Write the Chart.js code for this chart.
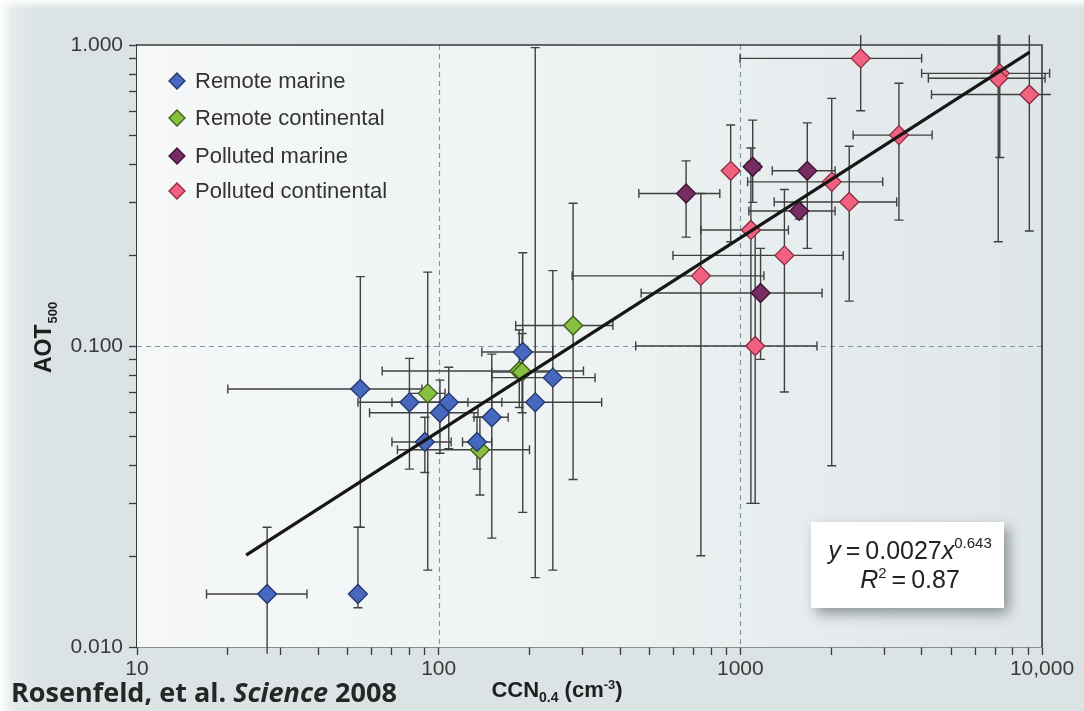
<!DOCTYPE html>
<html>
<head>
<meta charset="utf-8">
<script src="https://cdn.jsdelivr.net/npm/chart.js@4.4.0/dist/chart.umd.min.js"></script>
<style>
  html, body { margin: 0; padding: 0; }
  body {
    width: 1084px; height: 711px; overflow: hidden;
    background:
      linear-gradient(to bottom, rgba(255,255,255,0.9) 0px, rgba(255,255,255,0) 9px),
      linear-gradient(to right, #ffffff 0px, #e6ecee 12px, #dbe3e5 40px, #dbe3e5 100%);
  }
  canvas { display: block; }
</style>
</head>
<body>
<canvas id="aotChart" width="1084" height="711"></canvas>
<script>
// Valores (CCN en cm-3, AOT a 500 nm)
// Remote marine
const rmCCN = [27, 54, 55, 80, 90, 101, 108, 134, 150, 190, 209, 239];
const rmAOT = [0.015, 0.015, 0.072, 0.065, 0.048, 0.060, 0.065, 0.048, 0.058, 0.0955, 0.065, 0.0785];
const rmCCNRange = [[17, 36.6], null, [20, 88], [70, 125], [70, 110], [59, 135], [54, 162], [120, 150], [131, 170], [139, 239], [150, 347], [150, 330]];
const rmAOTRange = [[0.0095, 0.025], [0.0135, 0.025], [0.025, 0.17], [0.039, 0.091], [0.038, 0.058], [0.044, 0.077], [0.0456, 0.085], [0.039, 0.058], [0.023, 0.094], [0.028, 0.204], [0.017, 0.98], [0.018, 0.178]];

// Remote continental
const rcCCN = [92, 137, 185, 189, 279];
const rcAOT = [0.0696, 0.0452, 0.0826, 0.0819, 0.117];
const rcCCNRange = [[80, 105], [73, 200], [65, 302], [150, 240], [180, 378]];
const rcAOTRange = [[0.018, 0.176], [0.032, 0.058], [0.0625, 0.113], [0.06, 0.11], [0.036, 0.298]];

// Polluted marine
const pmCCN = [661, 1099, 1667, 1567, 1167];
const pmAOT = [0.321, 0.394, 0.382, 0.281, 0.150];
const pmCCNRange = [[461, 855], [1050, 1160], [1276, 2061], [1067, 2061], [469, 1866]];
const pmAOTRange = [[0.230, 0.412], [0.30, 0.563], [0.211, 0.551], [0.264, 0.30], [0.0903, 0.211]];

// Polluted continental
const pcCCN = [2506, 7244, 7160, 9078, 3356, 929, 2009, 2296, 1084, 1400, 740, 1120];
const pcAOT = [0.903, 0.805, 0.775, 0.685, 0.502, 0.382, 0.351, 0.301, 0.243, 0.200, 0.171, 0.100];
const pcCCNRange = [[998, 3990], [3990, 10600], [4200, 10240], [4303, 10700], [2366, 4323], null, [1057, 2965], [1295, 3298], [740, 1443], [598, 2193], [277, 1197], [450, 1795]];
const pcAOTRange = [[0.605, 1.08], [0.423, 1.08], [0.222, 1.08], [0.241, 1.08], [0.262, 0.746], [0.222, 0.542], [0.040, 0.665], [0.141, 0.461], [0.030, 0.455], [0.0703, 0.331], [0.0201, 0.321], [0.030, 0.24]];

// Recta de ajuste (extremos)
const fitCCN = [23, 9100];
const fitAOT = [0.0202, 0.947];

// Ejes
const xTickValues = [10, 20, 30, 40, 50, 60, 70, 80, 90, 100, 200, 300, 400, 500, 600, 700, 800, 900, 1000, 2000, 3000, 4000, 5000, 6000, 7000, 8000, 9000, 10000];
const yTickValues = [0.01, 0.02, 0.03, 0.04, 0.05, 0.06, 0.07, 0.08, 0.09, 0.1, 0.2, 0.3, 0.4, 0.5, 0.6, 0.7, 0.8, 0.9, 1];
const xTickLabels = { '10': '10', '100': '100', '1000': '1000', '10000': '10,000' };
const yTickLabels = { '0.01': '0.010', '0.1': '0.100', '1': '1.000' };
const refLinesX = [100, 1000];
const refLinesY = [0.1];

const groups = [
  { label: 'Remote marine', x: rmCCN, y: rmAOT, xr: rmCCNRange, yr: rmAOTRange, fill: '#4768bf', edge: '#24366b' },
  { label: 'Remote continental', x: rcCCN, y: rcAOT, xr: rcCCNRange, yr: rcAOTRange, fill: '#86c03e', edge: '#3d5a1b' },
  { label: 'Polluted marine', x: pmCCN, y: pmAOT, xr: pmCCNRange, yr: pmAOTRange, fill: '#752d62', edge: '#3a122f' },
  { label: 'Polluted continental', x: pcCCN, y: pcAOT, xr: pcCCNRange, yr: pcAOTRange, fill: '#f0627f', edge: '#8c2b40' }
];

const SANS = '"Liberation Sans", Arial, sans-serif';

function diamond(ctx, x, y, r, fill, edge) {
  ctx.beginPath();
  ctx.moveTo(x, y - r);
  ctx.lineTo(x + r, y);
  ctx.lineTo(x, y + r);
  ctx.lineTo(x - r, y);
  ctx.closePath();
  ctx.fillStyle = fill;
  ctx.fill();
  ctx.lineWidth = 1.3;
  ctx.strokeStyle = edge;
  ctx.stroke();
}

// Fondo del area, lineas de referencia, marco y barras de error
const fondoPlugin = {
  id: 'fondo',
  beforeDatasetsDraw(chart) {
    const { ctx, chartArea: a, scales: { x, y } } = chart;
    ctx.save();
    const g = ctx.createLinearGradient(a.left, 0, a.right, 0);
    g.addColorStop(0, '#f6f8f8');
    g.addColorStop(0.5, '#eef2f3');
    g.addColorStop(1, '#dfe6e8');
    ctx.fillStyle = g;
    ctx.fillRect(a.left, a.top, a.right - a.left, a.bottom - a.top);

    ctx.setLineDash([5, 4]);
    ctx.strokeStyle = '#7c98a8';
    ctx.lineWidth = 1.2;
    refLinesX.forEach(v => {
      const px = Math.round(x.getPixelForValue(v)) + 0.5;
      ctx.beginPath(); ctx.moveTo(px, a.top); ctx.lineTo(px, a.bottom); ctx.stroke();
    });
    refLinesY.forEach(v => {
      const py = Math.round(y.getPixelForValue(v)) + 0.5;
      ctx.beginPath(); ctx.moveTo(a.left, py); ctx.lineTo(a.right, py); ctx.stroke();
    });
    ctx.setLineDash([]);

    // marco superior y derecho
    ctx.strokeStyle = '#3a3a3a';
    ctx.lineWidth = 1.6;
    ctx.beginPath();
    ctx.moveTo(a.left, a.top); ctx.lineTo(a.right, a.top); ctx.lineTo(a.right, a.bottom);
    ctx.stroke();

    // barras de error
    const cap = 4.5;
    ctx.strokeStyle = '#404040';
    ctx.lineWidth = 1.4;
    groups.forEach(gr => {
      gr.x.forEach((cx, i) => {
        const px = x.getPixelForValue(cx);
        const py = y.getPixelForValue(gr.y[i]);
        const xr = gr.xr[i], yr = gr.yr[i];
        ctx.beginPath();
        if (xr) {
          const p0 = x.getPixelForValue(xr[0]), p1 = x.getPixelForValue(xr[1]);
          ctx.moveTo(p0, py); ctx.lineTo(p1, py);
          ctx.moveTo(p0, py - cap); ctx.lineTo(p0, py + cap);
          if (xr[1] < 10650) { ctx.moveTo(p1, py - cap); ctx.lineTo(p1, py + cap); }
        }
        if (yr) {
          const q0 = y.getPixelForValue(yr[0]), q1 = y.getPixelForValue(yr[1]);
          ctx.moveTo(px, q0); ctx.lineTo(px, q1);
          if (yr[0] > 0.0101) { ctx.moveTo(px - cap, q0); ctx.lineTo(px + cap, q0); }
          if (yr[1] < 1.05) { ctx.moveTo(px - cap, q1); ctx.lineTo(px + cap, q1); }
        }
        ctx.stroke();
      });
    });
    ctx.restore();
  },
  afterDraw(chart) {
    const { ctx } = chart;
    ctx.save();

    // leyenda
    ctx.font = '22px ' + SANS;
    ctx.textBaseline = 'middle';
    ctx.textAlign = 'left';
    const rows = [81, 118, 156, 191];
    groups.forEach((gr, i) => {
      diamond(ctx, 177, rows[i], 8, gr.fill, gr.edge);
      ctx.fillStyle = '#333333';
      ctx.fillText(gr.label, 195, rows[i] + 1);
    });

    // titulo eje Y: AOT500
    ctx.save();
    ctx.translate(51, 373);
    ctx.rotate(-Math.PI / 2);
    ctx.textBaseline = 'alphabetic';
    ctx.fillStyle = '#1e1e1e';
    ctx.font = 'bold 23px ' + SANS;
    ctx.fillText('AOT', 0, 0);
    const wA = ctx.measureText('AOT').width;
    ctx.font = 'bold 13px ' + SANS;
    ctx.fillText('500', wA + 1, 6);
    ctx.restore();

    // titulo eje X: CCN0.4 (cm-3)
    ctx.textBaseline = 'alphabetic';
    ctx.fillStyle = '#1e1e1e';
    const parts = [
      { t: 'CCN', f: 'bold 22px ', dy: 0 },
      { t: '0.4', f: 'bold 14px ', dy: 5 },
      { t: ' (cm', f: 'bold 22px ', dy: 0 },
      { t: '-3', f: 'bold 13px ', dy: -8 },
      { t: ')', f: 'bold 22px ', dy: 0 }
    ];
    let total = 0;
    parts.forEach(p => { ctx.font = p.f + SANS; p.w = ctx.measureText(p.t).width; total += p.w; });
    let cx = 557 - total / 2;
    parts.forEach(p => { ctx.font = p.f + SANS; ctx.fillText(p.t, cx, 697 + p.dy); cx += p.w; });

    // cita
    const citeParts = [
      { t: 'Rosenfeld, et al. ', f: 'bold ' },
      { t: 'Science', f: 'italic bold ' },
      { t: ' 2008', f: 'bold ' }
    ];
    let cw = 0;
    citeParts.forEach(p => { ctx.font = p.f + '24px "Open Sans", sans-serif'; cw += ctx.measureText(p.t).width; });
    const size = 24 * 386 / cw;
    let tx = 11;
    ctx.fillStyle = '#262626';
    citeParts.forEach(p => {
      ctx.font = p.f + size.toFixed(2) + 'px "Open Sans", sans-serif';
      ctx.fillText(p.t, tx, 702);
      tx += ctx.measureText(p.t).width;
    });

    // recuadro con la ecuacion
    ctx.save();
    ctx.shadowColor = 'rgba(40,50,60,0.45)';
    ctx.shadowBlur = 12;
    ctx.shadowOffsetX = 5;
    ctx.shadowOffsetY = 6;
    ctx.fillStyle = '#ffffff';
    ctx.fillRect(811, 522, 193, 86);
    ctx.restore();

    ctx.fillStyle = '#222222';
    const eq1 = [
      { t: 'y', f: 'italic 25px ', dy: 0 },
      { t: '\u2009=\u20090.0027', f: '25px ', dy: 0 },
      { t: 'x', f: 'italic 25px ', dy: 0 },
      { t: '0.643', f: '15px ', dy: -11 }
    ];
    const eq2 = [
      { t: 'R', f: 'italic 25px ', dy: 0 },
      { t: '2', f: '15px ', dy: -10 },
      { t: '\u2009=\u20090.87', f: '25px ', dy: 0 }
    ];
    [[eq1, 559, 910], [eq2, 588, 910]].forEach(([line, base, center]) => {
      let w = 0;
      line.forEach(p => { ctx.font = p.f + SANS; p.w = ctx.measureText(p.t).width; w += p.w; });
      let lx = center - w / 2;
      line.forEach(p => { ctx.font = p.f + SANS; ctx.fillText(p.t, lx, base + p.dy); lx += p.w; });
    });

    ctx.restore();
  }
};

const datasets = groups.map(gr => ({
  label: gr.label,
  type: 'scatter',
  data: gr.x.map((v, i) => ({ x: v, y: gr.y[i] })),
  pointStyle: 'rectRot',
  pointRadius: 9.5,
  pointHoverRadius: 9.5,
  backgroundColor: gr.fill,
  borderColor: gr.edge,
  borderWidth: 1.3,
  clip: false,
  order: 1
}));

datasets.push({
  label: 'Ajuste',
  type: 'line',
  data: fitCCN.map((v, i) => ({ x: v, y: fitAOT[i] })),
  borderColor: '#161616',
  borderWidth: 3.2,
  pointRadius: 0,
  fill: false,
  order: 0
});

const tickFont = { family: SANS, size: 21 };

new Chart(document.getElementById('aotChart').getContext('2d'), {
  type: 'scatter',
  data: { datasets },
  options: {
    responsive: false,
    animation: false,
    devicePixelRatio: 1,
    layout: { padding: { left: 0, top: 45, right: 42, bottom: 0 } },
    plugins: { legend: { display: false }, tooltip: { enabled: false } },
    scales: {
      x: {
        type: 'logarithmic',
        position: 'bottom',
        min: 10,
        max: 10000,
        afterBuildTicks: s => { s.ticks = xTickValues.map(v => ({ value: v })); },
        afterFit: s => { s.height = 64; },
        ticks: {
          autoSkip: false, maxRotation: 0, minRotation: 0,
          color: '#3a3a3a', font: tickFont, padding: 2,
          callback: v => xTickLabels[String(v)] || ''
        },
        grid: { drawOnChartArea: false, tickLength: 8, tickColor: '#3a3a3a', tickWidth: 1.3 },
        border: { color: '#3a3a3a', width: 1.6 }
      },
      y: {
        type: 'logarithmic',
        position: 'left',
        min: 0.01,
        max: 1,
        afterBuildTicks: s => { s.ticks = yTickValues.map(v => ({ value: v })); },
        afterFit: s => { s.width = 137; },
        ticks: {
          autoSkip: false, color: '#3a3a3a', font: tickFont, padding: 6,
          callback: v => yTickLabels[String(v)] || ''
        },
        grid: { drawOnChartArea: false, tickLength: 8, tickColor: '#3a3a3a', tickWidth: 1.3 },
        border: { color: '#3a3a3a', width: 1.6 }
      }
    }
  },
  plugins: [fondoPlugin]
});
</script>
</body>
</html>
